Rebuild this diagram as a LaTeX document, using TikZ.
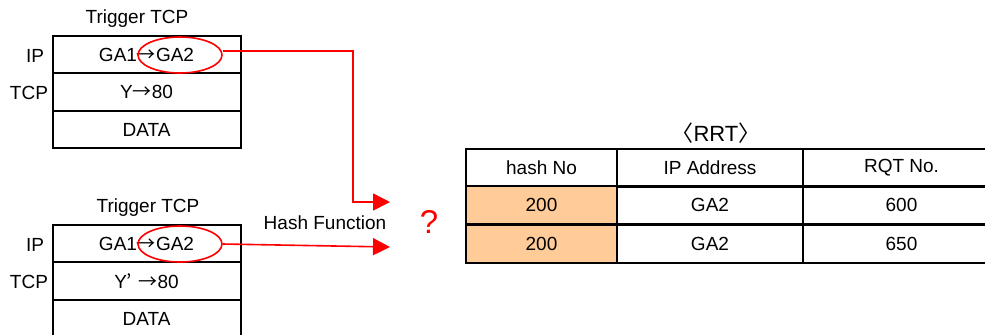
\documentclass[tikz,border=0pt]{standalone}
\usepackage{fontspec}
\setmainfont{Liberation Sans}
\newfontfamily\cjk{Noto Sans CJK JP}
\usetikzlibrary{arrows.meta,shapes.geometric,positioning}
\definecolor{peach}{HTML}{FFCC99}

\begin{document}
\begin{tikzpicture}[x=0.5pt,y=-0.5pt,
  font=\fontsize{9.5}{11}\selectfont,
  cell/.style={draw, line width=1pt, minimum width=94pt, minimum height=18.75pt, inner sep=0pt},
  tcell/.style={draw, line width=1pt, minimum height=19pt, inner sep=0pt},
  ring/.style={draw=red, line width=0.8pt, ellipse, minimum width=42pt, minimum height=18pt, inner sep=0pt},
  hop/.style={red, line width=0.8pt, -{Triangle[length=8.5pt,width=8.5pt]}}]
\useasboundingbox (0,0) rectangle (985,334);

% the two trigger packets
\foreach \p/\dy/\cx/\src in {1/0/137/{Y},2/189/148/{Y{\cjk ’}\,\,}} {
  \node (cap\p) at (\cx,19+\dy) {Trigger TCP};
  \node[cell] (ip\p) at (146.5,54.5+\dy) {GA1{\cjk →}GA2};
  \node[cell] (tcp\p) at (146.5,92+\dy) {\src{\cjk →}80};
  \node[cell] (data\p) at (146.5,129.5+\dy) {DATA};
  \node (iplab\p) at (35,56+\dy) {IP};
  \node (tcplab\p) at (29,93+\dy) {TCP};
  \node[ring] (ring\p) at (180,55+\dy) {};
}

% RRT table
\node[font=\fontsize{11}{13}\selectfont] (rrt) at (716,133) {{\cjk 〈}RRT{\cjk 〉}};
\node[tcell, minimum width=75.5pt] (head1) at (541.5,167.5) {hash No};
\node[tcell, minimum width=93pt] (head2) at (710,167.5) {IP Address};
\node[tcell, minimum width=98.5pt] (head3) at (901.5,167.5) {RQT No.};
\foreach \r/\y/\q in {1/205/600,2/243.5/650} {
  \node[tcell, fill=peach, minimum width=75.5pt] (hash\r) at (541.5,\y) {200};
  \node[tcell, minimum width=93pt] (addr\r) at (710,\y) {GA2};
  \node[tcell, minimum width=98.5pt] (rqt\r) at (901.5,\y) {\q};
}

% lookup arrows
\coordinate (q1) at (390,202);
\coordinate (q2) at (390,247);
\draw[hop] ([yshift=2pt]ring1.east) -| ([xshift=-18.5pt]q1) -- (q1);
\draw[hop] (ring2.east) -- (q2);
\node (hashfn) at (325,223) {Hash Function};
\node[text=red, font=\fontsize{16.5}{18}\selectfont] (what) at (429,222) {?};
\end{tikzpicture}
\end{document}
